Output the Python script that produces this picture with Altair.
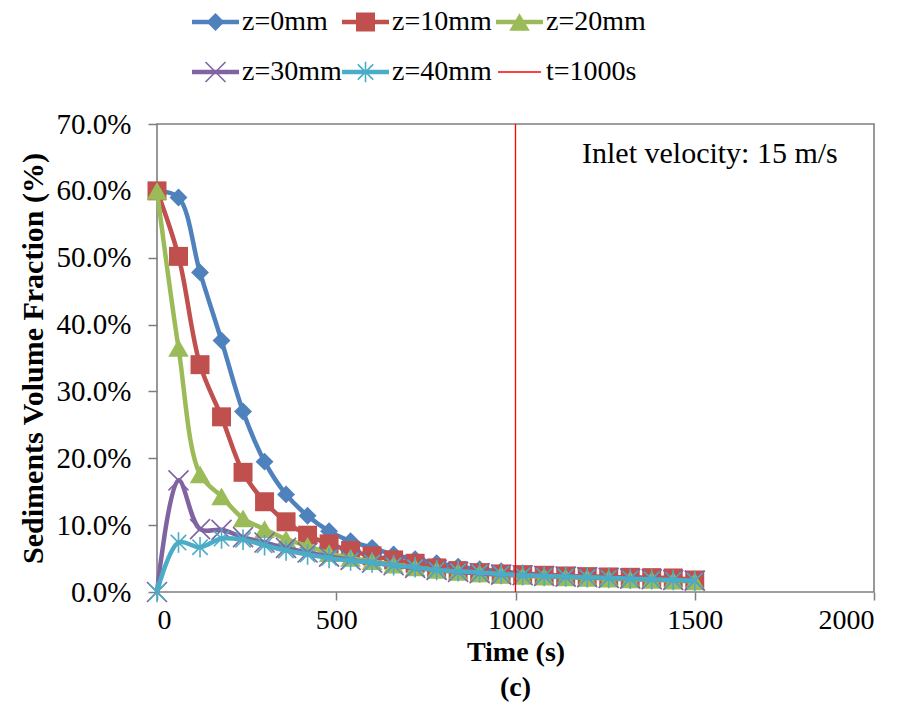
import altair as alt
import pandas as pd

# ---------------- data ----------------
times = [0, 60, 120, 180, 240, 300, 360, 420, 480, 540, 600, 660, 720,
         780, 840, 900, 960, 1020, 1080, 1140, 1200, 1260, 1320, 1380, 1440, 1500]

z0 = [60.0, 59.0, 47.8, 37.6, 27.0, 19.5, 14.6, 11.4, 9.1, 7.6, 6.6, 5.6, 4.9,
      4.3, 3.8, 3.4, 3.1, 2.8, 2.6, 2.4, 2.3, 2.2, 2.1, 2.0, 1.9, 1.8]
z10 = [60.0, 50.2, 34.0, 26.2, 17.9, 13.5, 10.5, 8.5, 7.2, 6.2, 5.4, 4.8, 4.3,
       3.6, 3.2, 2.9, 2.7, 2.6, 2.5, 2.4, 2.3, 2.25, 2.2, 2.15, 2.1, 1.8]
z20 = [60.0, 36.5, 17.6, 14.3, 11.0, 9.4, 7.9, 6.9, 5.8, 5.1, 4.6, 4.1, 3.7,
       3.3, 3.0, 2.8, 2.6, 2.4, 2.3, 2.2, 2.1, 2.0, 1.9, 1.8, 1.7, 1.6]
z30 = [0.0, 16.7, 9.4, 9.3, 8.2, 7.4, 6.6, 5.9, 5.3, 4.8, 4.4, 4.0, 3.6,
       3.3, 3.0, 2.8, 2.6, 2.5, 2.4, 2.3, 2.2, 2.1, 2.0, 1.9, 1.8, 1.7]
z40 = [0.0, 7.4, 6.7, 8.0, 7.8, 7.0, 6.2, 5.6, 5.1, 4.7, 4.4, 4.0, 3.7,
       3.3, 3.1, 2.9, 2.7, 2.5, 2.4, 2.3, 2.2, 2.1, 2.0, 1.9, 1.8, 1.7]

series_names = ["z=0mm", "z=10mm", "z=20mm", "z=30mm", "z=40mm"]
series_values = [z0, z10, z20, z30, z40]
marker_time = [1000]
marker_label = "t=1000s"
annotation = ["Inlet velocity: 15 m/s"]
sub_label = ["(c)"]
x_ticks = [0, 500, 1000, 1500, 2000]
y_ticks = [0.0, 0.1, 0.2, 0.3, 0.4, 0.5, 0.6, 0.7]

# ---------------- styles ----------------
FONT = "Liberation Serif"
W, H = 717, 468
colors = ["#4F81BD", "#C0504D", "#9BBB59", "#8064A2", "#4BACC6"]
X_PATH = "M-1,-1L1,1M-1,1L1,-1"
STAR_PATH = "M-0.75,-0.75L0.75,0.75M-0.75,0.75L0.75,-0.75M0,-1L0,1"
shapes = ["diamond", "square", "triangle-up", X_PATH, STAR_PATH]
filled = [True, True, True, False, False]
sizes = [320, 360, 420, 400, 420]
LINE_W = 4.5

rows = []
for name, vals in zip(series_names, series_values):
    for t, v in zip(times, vals):
        rows.append({"series": name, "time": t, "frac": v / 100.0})
df = pd.DataFrame(rows)

x_axis = alt.Axis(values=x_ticks, format="d", title="Time (s)",
                  labelFont=FONT, labelFontSize=28, labelColor="black",
                  labelPadding=6, tickSize=8, tickColor="#7f7f7f", tickWidth=1.5,
                  domain=False, grid=False,
                  titleFont=FONT, titleFontSize=28, titleFontWeight="bold",
                  titleColor="black", titleY=60, titleBaseline="middle")
y_axis = alt.Axis(values=y_ticks, format=".1%", title="Sediments Volume Fraction (%)",
                  labelFont=FONT, labelFontSize=29, labelColor="black",
                  labelPadding=17, tickSize=9, tickColor="#7f7f7f", tickWidth=1.5,
                  domain=False, grid=False,
                  titleFont=FONT, titleFontSize=30, titleFontWeight="bold",
                  titleColor="black", titleX=-124, titleY=H / 2,
                  titleAngle=-90, titleBaseline="middle", titleAlign="center")
x_scale = alt.Scale(domain=[0, 2000], nice=False, zero=False)
y_scale = alt.Scale(domain=[0, 0.7], nice=False)

X = alt.X("time:Q", scale=x_scale, axis=x_axis)
Y = alt.Y("frac:Q", scale=y_scale, axis=y_axis)

layers = []
for i, name in enumerate(series_names):
    base = alt.Chart(df).transform_filter(alt.datum.series == name)
    layers.append(
        base.mark_line(color=colors[i], strokeWidth=LINE_W, interpolate="catmull-rom")
        .encode(x=X, y=Y)
    )
    if filled[i]:
        pt = base.mark_point(shape=shapes[i], filled=True, size=sizes[i],
                             color=colors[i], opacity=1, strokeWidth=0)
    else:
        pt = base.mark_point(shape=shapes[i], filled=False, size=sizes[i],
                             color=colors[i], opacity=1, strokeWidth=1.6)
    layers.append(pt.encode(x=X, y=Y))

# vertical marker line
layers.append(
    alt.Chart(pd.DataFrame({"time": marker_time}))
    .mark_rule(color="#FF0000", strokeWidth=1.3)
    .encode(x=X)
)

# annotation
layers.append(
    alt.Chart(pd.DataFrame({"label": annotation}))
    .mark_text(align="left", baseline="alphabetic", font=FONT, fontSize=30, color="black")
    .encode(x=alt.value(425), y=alt.value(39), text="label:N")
)

# sub-figure label
layers.append(
    alt.Chart(pd.DataFrame({"label": sub_label}))
    .mark_text(align="center", baseline="middle", font=FONT, fontSize=28,
               fontWeight="bold", color="black")
    .encode(x=alt.value(W / 2), y=alt.value(564), text="label:N")
)

# legend (two rows of three entries, above the plot)
legend_names = series_names + [marker_label]
col_x = [35, 185, 339]
row_y = [-102, -52]
for i, name in enumerate(legend_names):
    x0 = col_x[i % 3]
    yy = row_y[i // 3]
    ldf = pd.DataFrame({"label": [name]})
    if i < len(series_names):
        layers.append(
            alt.Chart(ldf).mark_rule(color=colors[i], strokeWidth=LINE_W)
            .encode(x=alt.value(x0), x2=alt.value(x0 + 47), y=alt.value(yy))
        )
        if filled[i]:
            lp = alt.Chart(ldf).mark_point(shape=shapes[i], filled=True, size=sizes[i],
                                           color=colors[i], opacity=1, strokeWidth=0)
        else:
            lp = alt.Chart(ldf).mark_point(shape=shapes[i], filled=False, size=sizes[i],
                                           color=colors[i], opacity=1, strokeWidth=1.6)
        layers.append(lp.encode(x=alt.value(x0 + 23.5), y=alt.value(yy)))
    else:
        layers.append(
            alt.Chart(ldf).mark_rule(color="#FF0000", strokeWidth=1.3)
            .encode(x=alt.value(x0 + 2), x2=alt.value(x0 + 45), y=alt.value(yy))
        )
    layers.append(
        alt.Chart(ldf).mark_text(align="left", baseline="middle", font=FONT,
                                 fontSize=28, color="black")
        .encode(x=alt.value(x0 + 50), y=alt.value(yy), text="label:N")
    )

chart = (
    alt.layer(*layers)
    .properties(width=W, height=H,
                autosize=alt.AutoSizeParams(type="none"),
                padding={"left": 157, "top": 124, "right": 36, "bottom": 136},
                background="white")
    .configure_view(stroke="#7f7f7f", strokeWidth=1.6)
)

chart.save("out.html", embed_options={"renderer": "svg", "actions": False})
